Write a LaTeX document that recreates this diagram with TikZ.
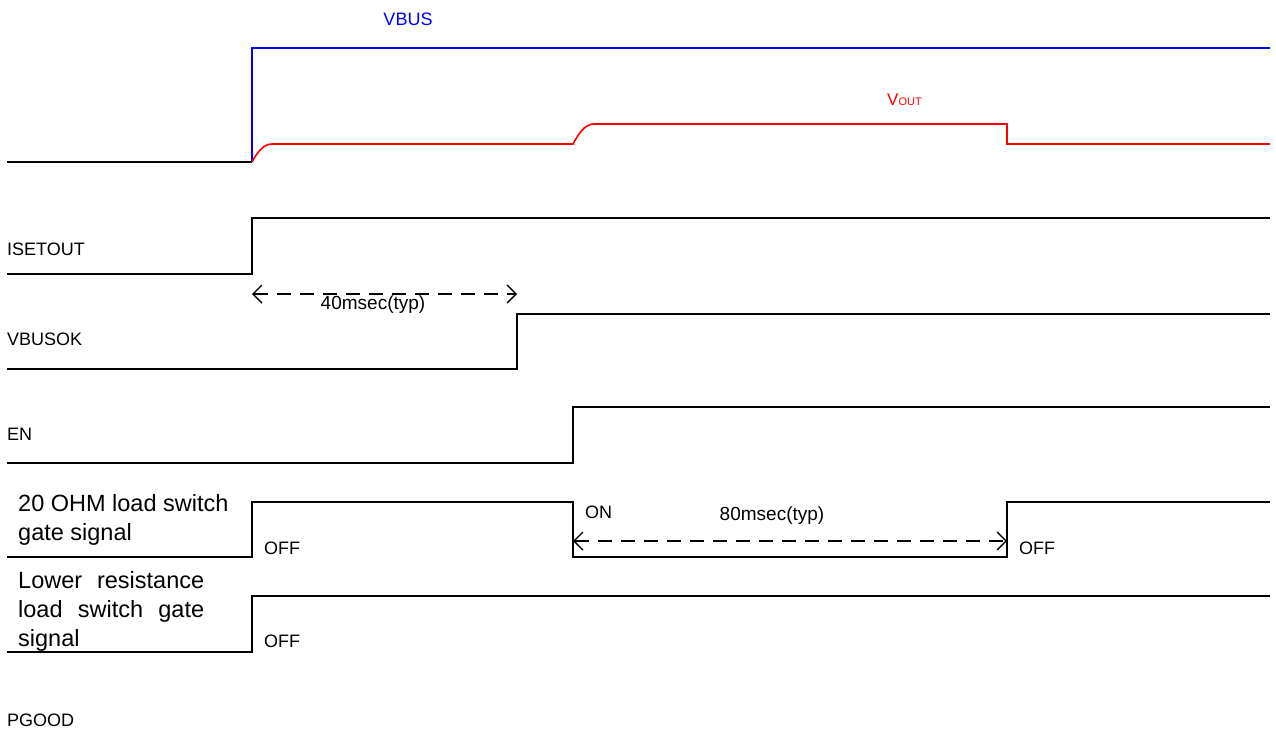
\documentclass[tikz,border=0pt]{standalone}
\usepackage{fontspec}
\setmainfont{Liberation Sans}
\usetikzlibrary{arrows.meta}

\tikzset{
  sig/.style={line width=1.6pt,line join=miter},
  lbl/.style={anchor=west,inner sep=0pt,font=\fontsize{18}{21}\selectfont},
  biglbl/.style={anchor=west,inner sep=0pt,align=left,font=\fontsize{23.5}{29}\selectfont},
  span/.style={line width=1.4pt,dash pattern=on 14pt off 9pt,
    {Straight Barb[length=9pt,width=18pt]}-{Straight Barb[length=9pt,width=18pt]}}
}

\begin{document}
\begin{tikzpicture}[x=1pt,y=-1pt]
  \useasboundingbox (0,0) rectangle (1276,742);
  % edges
  \coordinate (ta) at (252,0);
  \coordinate (tb) at (517,0);
  \coordinate (tc) at (573,0);
  \coordinate (td) at (1007,0);
  % VBUS / VOUT
  \draw[sig] (7,162)--(252,162);
  \draw[sig,blue] (252,162)--(252,48)--(1270,48);
  \draw[sig,red] (252,162) .. controls (258,151) and (264,144) .. (272,144)
    --(573,144) .. controls (579,133) and (585,124) .. (594,124)
    --(1007,124)--(1007,144)--(1270,144);
  \node[anchor=center,text=blue,inner sep=0pt,font=\fontsize{18}{21}\selectfont] (vbus) at (408,19) {VBUS};
  \node[anchor=west,text=red,inner sep=0pt] (vout) at (887,100)
    {\fontsize{17}{20}\selectfont V\fontsize{11}{13}\selectfont OUT};
  % ISETOUT
  \draw[sig] (7,274)--(252,274)--(252,218)--(1270,218);
  \node[lbl] (isetout) at (7,249) {ISETOUT};
  \coordinate (a40l) at (252,294);
  \coordinate (a40r) at (517,294);
  \draw[span] (a40l)--(a40r);
  \node[inner sep=0pt,font=\fontsize{19}{22}\selectfont] (t40) at (373,305) {40msec(typ)};
  % VBUSOK
  \draw[sig] (7,369)--(517,369)--(517,314)--(1270,314);
  \node[lbl] (vbusok) at (7,339) {VBUSOK};
  % EN
  \draw[sig] (7,463)--(573,463)--(573,407)--(1270,407);
  \node[lbl] (en) at (7,434) {EN};
  % 20 OHM switch
  \draw[sig] (7,557)--(252,557)--(252,502)--(573,502)--(573,557)
    --(1007,557)--(1007,502)--(1270,502);
  \node[biglbl] (ohm) at (18,520) {20 OHM load switch\\gate signal};
  \node[lbl] (off1) at (264,548) {OFF};
  \node[lbl] (on1) at (585,512) {ON};
  \node[lbl] (off2) at (1019,548) {OFF};
  \coordinate (a80l) at (573,541);
  \coordinate (a80r) at (1007,541);
  \draw[span] (a80l)--(a80r);
  \node[inner sep=0pt,font=\fontsize{19}{22}\selectfont] (t80) at (772,516) {80msec(typ)};
  % lower resistance switch
  \draw[sig] (7,652)--(252,652)--(252,596)--(1270,596);
  \node[biglbl] (lowr) at (18,611)
    {\hbox to 186pt{Lower\hfil resistance}\\\hbox to 186pt{load\hfil switch\hfil gate}\\signal};
  \node[lbl] (off3) at (264,641) {OFF};
  % PGOOD
  \node[lbl] (pgood) at (7,720) {PGOOD};
\end{tikzpicture}
\end{document}
